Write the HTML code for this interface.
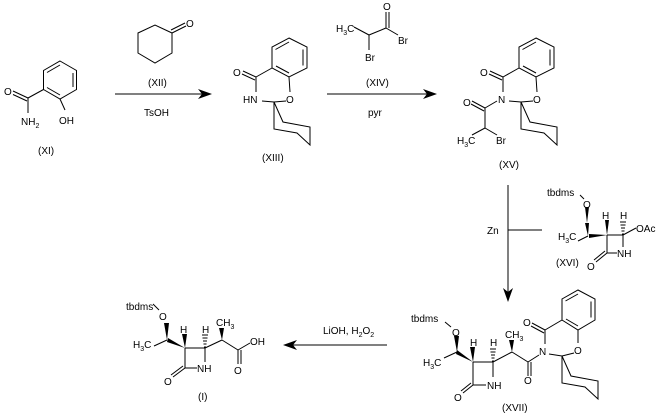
<!DOCTYPE html>
<html><head><style>
html,body{margin:0;padding:0;background:#fff;}
svg{display:block;}
text{font-family:"Liberation Sans",Arial,sans-serif;font-size:10px;fill:#000;}
.s{font-size:7px;}
</style></head><body>
<svg width="666" height="414" viewBox="0 0 666 414" xmlns="http://www.w3.org/2000/svg">
<defs>
<g id="cyc" fill="none" stroke="#000" stroke-width="1">
<polyline points="0,0 9,20 36,25 36,43 23,31 0,27 0,0"/>
</g>
</defs>
<g stroke="#000" stroke-width="1" fill="none">
<!-- XI -->
<polygon points="60,61 76.5,70.5 76.5,89.5 60,99 43.5,89.5 43.5,70.5"/>
<line x1="73" y1="73" x2="73" y2="87"/>
<line x1="60" y1="65" x2="47" y2="72.5"/>
<line x1="60" y1="95" x2="47" y2="87.5"/>
<line x1="60" y1="99" x2="65" y2="110"/>
<line x1="43.5" y1="89.5" x2="28" y2="98"/>
<line x1="28" y1="98" x2="13" y2="91"/>
<line x1="27" y1="101" x2="13" y2="94.5"/>
<line x1="28" y1="98" x2="28" y2="113"/>
<!-- arrow 1 -->
<line x1="115" y1="94" x2="203" y2="94"/>
<!-- XII -->
<polygon points="138,33 155,25 172,33 172,53 155,63 138,53"/>
<line x1="172" y1="33" x2="186" y2="26"/>
<line x1="171" y1="30" x2="185" y2="23"/>
<!-- XIII -->
<polygon points="289,38 307,47 307,68 289,77 272,68 272,47"/>
<line x1="303" y1="49.5" x2="303" y2="65.5"/>
<line x1="289" y1="42" x2="275.5" y2="49.5"/>
<line x1="289" y1="73" x2="276" y2="66"/>
<line x1="272" y1="68" x2="256" y2="77"/>
<line x1="256" y1="77" x2="243" y2="71"/>
<line x1="255" y1="80" x2="242" y2="74"/>
<line x1="256" y1="77" x2="256" y2="92"/>
<line x1="289" y1="77" x2="290" y2="92"/>
<line x1="262" y1="101" x2="274" y2="102"/>
<line x1="286" y1="101" x2="274" y2="102"/>
<use href="#cyc" x="274" y="102"/>
<!-- arrow 2 -->
<line x1="327" y1="94" x2="428" y2="94"/>
<!-- XIV -->
<line x1="354" y1="27" x2="369" y2="35"/>
<line x1="369" y1="35" x2="386" y2="28"/>
<line x1="386" y1="28" x2="386" y2="12"/>
<line x1="389" y1="28" x2="389" y2="12"/>
<line x1="386" y1="28" x2="398" y2="35"/>
<line x1="369" y1="35" x2="369" y2="50"/>
<!-- XV -->
<polygon points="536,38 554,47 554,68 536,77 519,68 519,47"/>
<line x1="550" y1="49.5" x2="550" y2="65.5"/>
<line x1="536" y1="42" x2="522.5" y2="49.5"/>
<line x1="536" y1="73" x2="523" y2="66"/>
<line x1="519" y1="68" x2="503" y2="77"/>
<line x1="503" y1="77" x2="490" y2="71"/>
<line x1="502" y1="80" x2="489" y2="74"/>
<line x1="503" y1="77" x2="503" y2="92"/>
<line x1="536" y1="77" x2="537" y2="92"/>
<line x1="509" y1="101" x2="521" y2="102"/>
<line x1="533" y1="101" x2="521" y2="102"/>
<use href="#cyc" x="521" y="102"/>
<line x1="497" y1="101" x2="485" y2="108"/>
<line x1="485" y1="108" x2="472" y2="101"/>
<line x1="484" y1="111" x2="471" y2="104"/>
<line x1="485" y1="108" x2="485" y2="128"/>
<line x1="485" y1="128" x2="472" y2="135"/>
<line x1="485" y1="128" x2="497" y2="135"/>
<!-- Zn arrow -->
<line x1="508" y1="185" x2="508" y2="294"/>
<line x1="508" y1="230" x2="542" y2="230"/>
<!-- XVI -->
<line x1="580" y1="195" x2="584" y2="199"/>
<line x1="588" y1="236" x2="578" y2="241"/>
<line x1="607" y1="235" x2="623" y2="235"/>
<line x1="623" y1="235" x2="623" y2="247"/>
<line x1="607" y1="253" x2="617" y2="253"/>
<line x1="607" y1="253" x2="607" y2="235"/>
<line x1="607" y1="253" x2="596" y2="262"/>
<line x1="605" y1="251" x2="594" y2="260"/>
<line x1="623" y1="235" x2="636" y2="228"/>
<!-- arrow 3 -->
<line x1="387" y1="345" x2="292" y2="345"/>
<!-- I -->
<line x1="153" y1="304" x2="159" y2="310"/>
<line x1="167" y1="340" x2="154" y2="346"/>
<line x1="185" y1="348" x2="205" y2="348"/>
<line x1="205" y1="348" x2="205" y2="362"/>
<line x1="185" y1="368" x2="197" y2="368"/>
<line x1="185" y1="368" x2="185" y2="348"/>
<line x1="185" y1="368" x2="173" y2="377"/>
<line x1="183" y1="366" x2="171" y2="375"/>
<line x1="205" y1="348" x2="222" y2="340"/>
<line x1="222" y1="340" x2="238" y2="350"/>
<line x1="238" y1="350" x2="250" y2="343"/>
<line x1="238" y1="350" x2="238" y2="364"/>
<line x1="241" y1="350" x2="241" y2="364"/>
<!-- XVII -->
<line x1="445" y1="322" x2="451" y2="327"/>
<line x1="457" y1="352" x2="444" y2="358"/>
<line x1="473" y1="362" x2="493" y2="362"/>
<line x1="493" y1="362" x2="493" y2="377"/>
<line x1="473" y1="385" x2="486" y2="385"/>
<line x1="473" y1="385" x2="473" y2="362"/>
<line x1="473" y1="385" x2="463" y2="393"/>
<line x1="471" y1="383" x2="461" y2="391"/>
<line x1="493" y1="362" x2="512" y2="352"/>
<line x1="512" y1="352" x2="528" y2="362"/>
<line x1="528" y1="362" x2="528" y2="376"/>
<line x1="531" y1="362" x2="531" y2="376"/>
<line x1="528" y1="362" x2="539" y2="355"/>
<polygon points="578,290 595,299 595,320 578,330 562,320 562,299"/>
<line x1="591" y1="301.5" x2="591" y2="317.5"/>
<line x1="578" y1="294" x2="565.5" y2="301"/>
<line x1="578" y1="326" x2="566" y2="319"/>
<line x1="562" y1="320" x2="545" y2="330"/>
<line x1="545" y1="330" x2="532" y2="323"/>
<line x1="544" y1="333" x2="531" y2="326"/>
<line x1="545" y1="330" x2="545" y2="344"/>
<line x1="578" y1="330" x2="578" y2="343"/>
<line x1="549" y1="354" x2="562" y2="356"/>
<line x1="574" y1="353" x2="562" y2="356"/>
<use href="#cyc" x="562" y="356"/>
</g>
<g fill="#000" stroke="none">
<polygon points="212,94 198,89 202,94 198,99"/>
<polygon points="437,94 423,89 427,94 423,99"/>
<polygon points="508,302 503,288 508,292 513,288"/>
<polygon points="283,345 297,340 293,345 297,350"/>
<polygon points="587,223 585,207 589,207"/>
<polygon points="588,236 585,223 589,223"/>
<polygon points="607,235 589,234 589,238"/>
<polygon points="607,235 605,220 609,220"/>
<polygon points="167,340 164,323 169,323"/>
<polygon points="185,348 168,338 167,342"/>
<polygon points="185,348 182,334 187,334"/>
<polygon points="222,340 219,328 224,328"/>
<polygon points="457,352 454,336 459,336"/>
<polygon points="473,362 457,350 456,354"/>
<polygon points="473,362 470,347 475,347"/>
<polygon points="512,352 509,340 514,340"/>
</g>
<g stroke="#000" stroke-width="1">
<line x1="622" y1="234" x2="624" y2="234"/><line x1="621.5" y1="231" x2="624.5" y2="231"/><line x1="621" y1="228" x2="625" y2="228"/><line x1="620.5" y1="225" x2="625.5" y2="225"/><line x1="620" y1="222" x2="626" y2="222"/>
<line x1="204" y1="347" x2="206" y2="347"/><line x1="203.5" y1="344" x2="206.5" y2="344"/><line x1="203" y1="341" x2="207" y2="341"/><line x1="202.5" y1="338" x2="207.5" y2="338"/><line x1="202" y1="335" x2="208" y2="335"/>
<line x1="492" y1="361" x2="494" y2="361"/><line x1="491.5" y1="358" x2="494.5" y2="358"/><line x1="491" y1="355" x2="495" y2="355"/><line x1="490.5" y1="352" x2="495.5" y2="352"/><line x1="490" y1="349" x2="496" y2="349"/>
</g>
<text x="4" y="95">O</text>
<text x="21" y="125">NH<tspan class="s" dy="3">2</tspan></text>
<text x="59" y="124">OH</text>
<text x="38" y="154">(XI)</text>
<text x="186" y="27">O</text>
<text x="148" y="86">(XII)</text>
<text x="144" y="116">TsOH</text>
<text x="233" y="76">O</text>
<text x="243" y="103">HN</text>
<text x="286" y="103">O</text>
<text x="262" y="161">(XIII)</text>
<text x="336" y="32">H<tspan class="s" dy="3">3</tspan><tspan dy="-3">C</tspan></text>
<text x="383" y="10">O</text>
<text x="398" y="44">Br</text>
<text x="365" y="61">Br</text>
<text x="366" y="86">(XIV)</text>
<text x="368" y="116">pyr</text>
<text x="480" y="76">O</text>
<text x="498" y="103">N</text>
<text x="533" y="103">O</text>
<text x="463" y="106">O</text>
<text x="457" y="144">H<tspan class="s" dy="3">3</tspan><tspan dy="-3">C</tspan></text>
<text x="496" y="144">Br</text>
<text x="499" y="168">(XV)</text>
<text x="487" y="234">Zn</text>
<text x="547" y="196">tbdms</text>
<text x="583" y="208">O</text>
<text x="558" y="240">H<tspan class="s" dy="3">3</tspan><tspan dy="-3">C</tspan></text>
<text x="602" y="219">H</text>
<text x="620" y="219">H</text>
<text x="636" y="232">OAc</text>
<text x="617" y="257">NH</text>
<text x="556" y="266">(XVI)</text>
<text x="587" y="270">O</text>
<text x="323" y="334">LiOH, H<tspan class="s" dy="3">2</tspan><tspan dy="-3">O</tspan><tspan class="s" dy="3">2</tspan></text>
<text x="126" y="310">tbdms</text>
<text x="159" y="320">O</text>
<text x="133" y="348">H<tspan class="s" dy="3">3</tspan><tspan dy="-3">C</tspan></text>
<text x="180" y="333">H</text>
<text x="202" y="333">H</text>
<text x="216" y="326">CH<tspan class="s" dy="3">3</tspan></text>
<text x="250" y="345">OH</text>
<text x="234" y="374">O</text>
<text x="197" y="372">NH</text>
<text x="164" y="385">O</text>
<text x="198" y="400">(I)</text>
<text x="411" y="322">tbdms</text>
<text x="452" y="336">O</text>
<text x="423" y="366">H<tspan class="s" dy="3">3</tspan><tspan dy="-3">C</tspan></text>
<text x="470" y="346">H</text>
<text x="490" y="346">H</text>
<text x="505" y="338">CH<tspan class="s" dy="3">3</tspan></text>
<text x="487" y="389">NH</text>
<text x="454" y="401">O</text>
<text x="524" y="384">O</text>
<text x="539" y="355">N</text>
<text x="523" y="326">O</text>
<text x="574" y="354">O</text>
<text x="502" y="411">(XVII)</text>
</svg>
</body></html>
